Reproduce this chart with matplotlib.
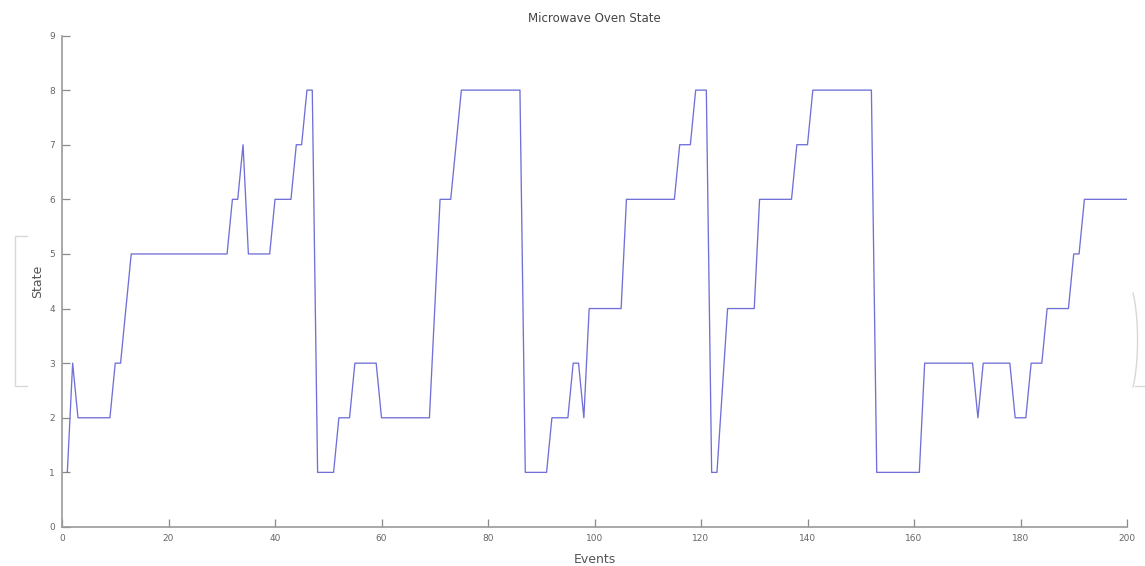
import matplotlib
matplotlib.use("Agg")
import matplotlib.pyplot as plt
from matplotlib.lines import Line2D
import numpy as np

# ---- data ----
title = "Microwave Oven State"
x_label = "Events"
y_label = "State"

# (start_event, end_event, state) runs of the state sequence, events 1..200
run_starts = [1, 2, 3, 10, 12, 13, 32, 34, 35, 40, 44, 46, 48, 52, 55, 60, 70, 71, 74, 75,
              87, 92, 96, 98, 99, 106, 116, 119, 122, 124, 125, 131, 138, 141, 153, 162,
              172, 173, 179, 182, 185, 190, 192]
run_ends = [1, 2, 9, 11, 12, 31, 33, 34, 39, 43, 45, 47, 51, 54, 59, 69, 70, 73, 74, 86,
            91, 95, 97, 98, 105, 115, 118, 121, 123, 124, 130, 137, 140, 152, 161, 171,
            172, 178, 181, 184, 189, 191, 200]
run_states = [1, 3, 2, 3, 4, 5, 6, 7, 5, 6, 7, 8, 1, 2, 3, 2, 4, 6, 7, 8,
              1, 2, 3, 2, 4, 6, 7, 8, 1, 2.5, 4, 6, 7, 8, 1, 3,
              2, 3, 2, 3, 4, 5, 6]

x_ticks = [0, 20, 40, 60, 80, 100, 120, 140, 160, 180, 200]
y_ticks = [0, 1, 2, 3, 4, 5, 6, 7, 8, 9]

# expand runs into the per-event series
events = []
states = []
for s, e, v in zip(run_starts, run_ends, run_states):
    for ev in range(s, e + 1):
        events.append(ev)
        states.append(v)

fig = plt.figure(figsize=(11.45, 5.66), dpi=100)
ax = fig.add_axes([62 / 1145, 1 - 527 / 566, (1127 - 62) / 1145, (527 - 35.5) / 566])

ax.plot(events, states, color="#7070d8", linewidth=0.95)

ax.set_xlim(0, 200)
ax.set_ylim(0, 9)
ax.set_xticks(x_ticks)
ax.set_yticks(y_ticks)

for side in ("top", "right"):
    ax.spines[side].set_visible(False)
for side in ("left", "bottom"):
    ax.spines[side].set_color("#9a9a9a")
    ax.spines[side].set_linewidth(1.2)

ax.tick_params(direction="in", length=6, width=0.9, color="#8a8a8a",
               labelsize=6.5, labelcolor="#666666", pad=5)

ax.set_title(title, fontsize=8.5, color="#444444", pad=10)
ax.set_xlabel(x_label, fontsize=9, color="#555555", labelpad=7)
ax.set_ylabel(y_label, fontsize=9, color="#555555", labelpad=4)

# faint scan artefacts at the left and right edges
W, H = 1145, 566
def fx(px):
    return px / W
def fy(py):
    return 1 - py / H
art = "#d8d8d8"
fig.add_artist(Line2D([fx(27), fx(15), fx(15), fx(27)],
                      [fy(236), fy(236), fy(386), fy(386)],
                      color=art, linewidth=1.0))
theta = np.linspace(-0.9, 0.9, 40)
fig.add_artist(Line2D(fx(1133 + 12 * np.cos(theta) - 12 * np.cos(0.9)),
                      fy(340 + 60 * np.sin(-theta)),
                      color=art, linewidth=1.0))
fig.add_artist(Line2D([fx(1135), fx(1145)], [fy(386), fy(386)], color=art, linewidth=1.0))

fig.savefig("out.png", dpi=100, facecolor="white")
